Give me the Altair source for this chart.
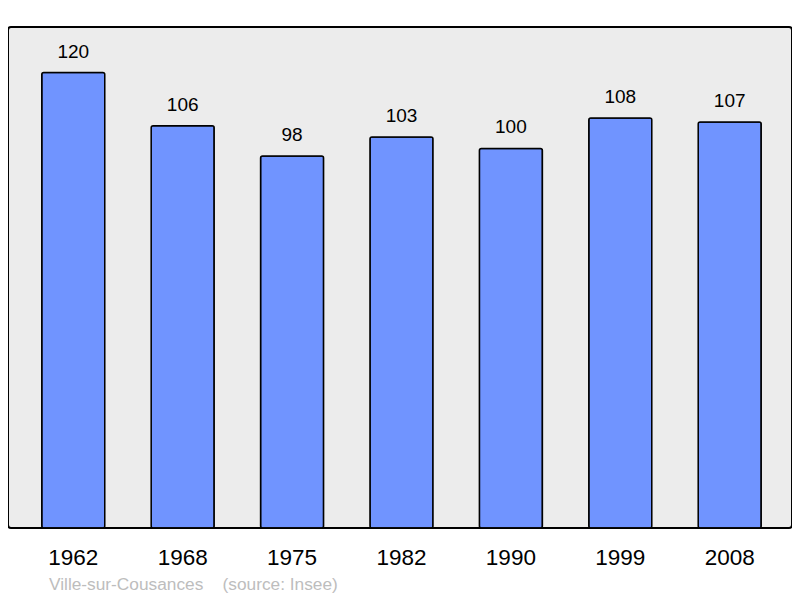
import altair as alt
import pandas as pd

years = ["1962", "1968", "1975", "1982", "1990", "1999", "2008"]
population = [120, 106, 98, 103, 100, 108, 107]

df = pd.DataFrame({"year": years, "pop": population})

FONT = "Liberation Sans"

x = alt.X("year:N", sort=years, title=None,
          scale=alt.Scale(paddingInner=0.424, paddingOuter=0.295, align=0.523),
          axis=alt.Axis(labelAngle=0, ticks=False, domain=False, labelFontSize=22.5,
                        labelFont=FONT, labelColor="#000000", labelPadding=36,
                        labelBaseline="alphabetic", grid=False))
y = alt.Y("pop:Q", title=None, scale=alt.Scale(domain=[0, 132], nice=False),
          axis=None)

bars = alt.Chart(df).mark_bar(color="#7094ff", stroke="#000000", strokeWidth=1.5,
                              cornerRadius=2).encode(x=x, y=y)
labels = alt.Chart(df).mark_text(dy=-15, baseline="alphabetic", fontSize=19,
                                 font=FONT, color="#000000").encode(
    x=alt.X("year:N", sort=years), y="pop:Q", text="pop:Q")

chart = (bars + labels).properties(
    width=784, height=501,
    background="#ffffff",
    title=alt.TitleParams(
        "Ville-sur-Cousances\u00a0\u00a0\u00a0\u00a0(source: Insee)",
        orient="bottom", anchor="start", dx=41, offset=21,
        fontSize=17.3, font=FONT, fontWeight="normal", color="#bdbdbd",
        baseline="alphabetic"),
    autosize=alt.AutoSizeParams(type="none"),
    padding={"left": 0, "top": 19, "right": 0, "bottom": 70},
).configure_view(
    fill="#ececec", stroke="#000000", strokeWidth=2, cornerRadius=3
)

chart.save("out.html", embed_options={"renderer": "svg", "actions": False})
